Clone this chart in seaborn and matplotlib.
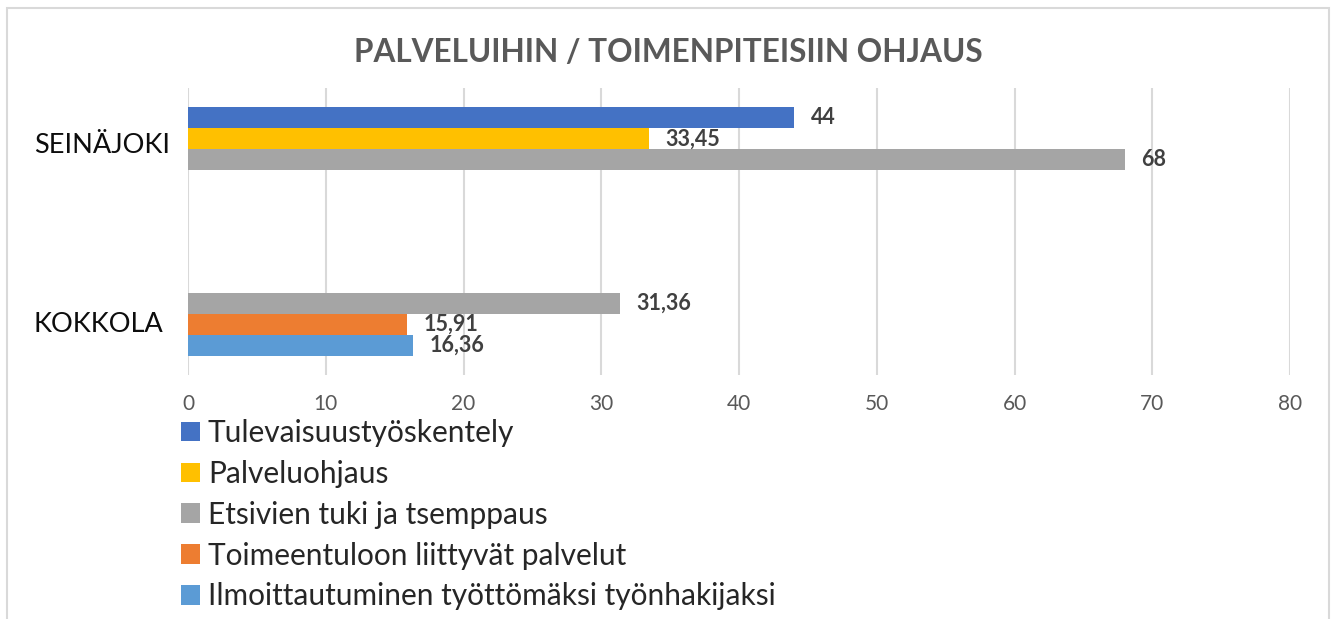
import matplotlib
matplotlib.use("Agg")
import matplotlib.pyplot as plt
import matplotlib.transforms as mtransforms
from matplotlib.patches import Rectangle
import seaborn as sns
import pandas as pd

# ---- data ----
categories = ["SEINÄJOKI", "KOKKOLA"]
series = ["Tulevaisuustyöskentely", "Palveluohjaus", "Etsivien tuki ja tsemppaus",
          "Toimeentuloon liittyvät palvelut", "Ilmoittautuminen työttömäksi työnhakijaksi"]
seinajoki_values = [44, 33.45, 68, None, None]
kokkola_values = [None, None, 31.36, 15.91, 16.36]
colors = ["#4472C4", "#FFC000", "#A5A5A5", "#ED7D31", "#5B9BD5"]
title = "PALVELUIHIN / TOIMENPITEISIIN OHJAUS"
xticks = [0, 10, 20, 30, 40, 50, 60, 70, 80]

rows = []
for cat, vals in zip(categories, [seinajoki_values, kokkola_values]):
    for s, v in zip(series, vals):
        if v is not None:
            rows.append({"city": cat, "series": s, "value": v})
df = pd.DataFrame(rows)

sns.set_theme(style="white")
plt.rcParams["font.family"] = ["Lato", "DejaVu Sans"]

fig = plt.figure(figsize=(13.36, 6.19), dpi=100)
W, H = 1336, 619
ax = fig.add_axes([188 / W, 1 - 375 / H, (1290 - 188) / W, (375 - 88) / H])

sns.barplot(data=df, y="city", x="value", hue="series", order=categories,
            hue_order=series, palette=colors, orient="h", width=0.73,
            errorbar=None, saturation=1, ax=ax, legend=True, linewidth=0)

handles, labels = ax.get_legend_handles_labels()
ax.get_legend().remove()

ax.set_xlim(0, 80)
ax.set_xticks(xticks)
ax.set_xticklabels([str(t) for t in xticks])
ax.grid(axis="x", color="#D9D9D9", linewidth=1.5)
ax.grid(axis="y", visible=False)
ax.set_axisbelow(True)
for sp in ax.spines.values():
    sp.set_visible(False)
ax.set_xlabel("")
ax.set_ylabel("")
ax.tick_params(axis="x", length=0, pad=14, labelsize=15, labelcolor="#595959")
ax.tick_params(axis="y", length=0, pad=111, labelsize=19.5, labelcolor="#0d0d0d")

# category labels: left aligned, shifted to sit beside the visible bars
shifts = {"SEINÄJOKI": 17, "KOKKOLA": -19}
for lab in ax.get_yticklabels():
    lab.set_horizontalalignment("left")
    dy = shifts.get(lab.get_text(), 0)
    lab.set_transform(lab.get_transform() + mtransforms.ScaledTranslation(0, dy / 100, fig.dpi_scale_trans))

# data labels
def fmt(v):
    s = f"{v:.2f}".rstrip("0").rstrip(".")
    return s.replace(".", ",")

for cont in ax.containers:
    labs = [fmt(b.get_width()) for b in cont]
    ax.bar_label(cont, labels=labs, padding=12, fontsize=15.5, fontweight="bold", color="#404040")

fig.text(0.5, 1 - 53 / H, title, ha="center", va="center", fontsize=22.7,
         fontweight="bold", color="#595959")

fig.legend(handles, labels, loc="upper left", bbox_to_anchor=(181 / W, 1 - 419 / H),
           frameon=False, fontsize=21.5, handlelength=0.62, handleheight=0.62,
           handletextpad=0.28, labelspacing=0.43, borderpad=0, borderaxespad=0,
           labelcolor="#262626")

# outer chart border (bottom edge outside the image)
fig.patches.append(Rectangle((7 / W, -0.1), (1329 - 7) / W, 1.1 - 8 / H,
                             transform=fig.transFigure, fill=False,
                             edgecolor="#D9D9D9", linewidth=1.5))

fig.savefig("out.png", dpi=100)
